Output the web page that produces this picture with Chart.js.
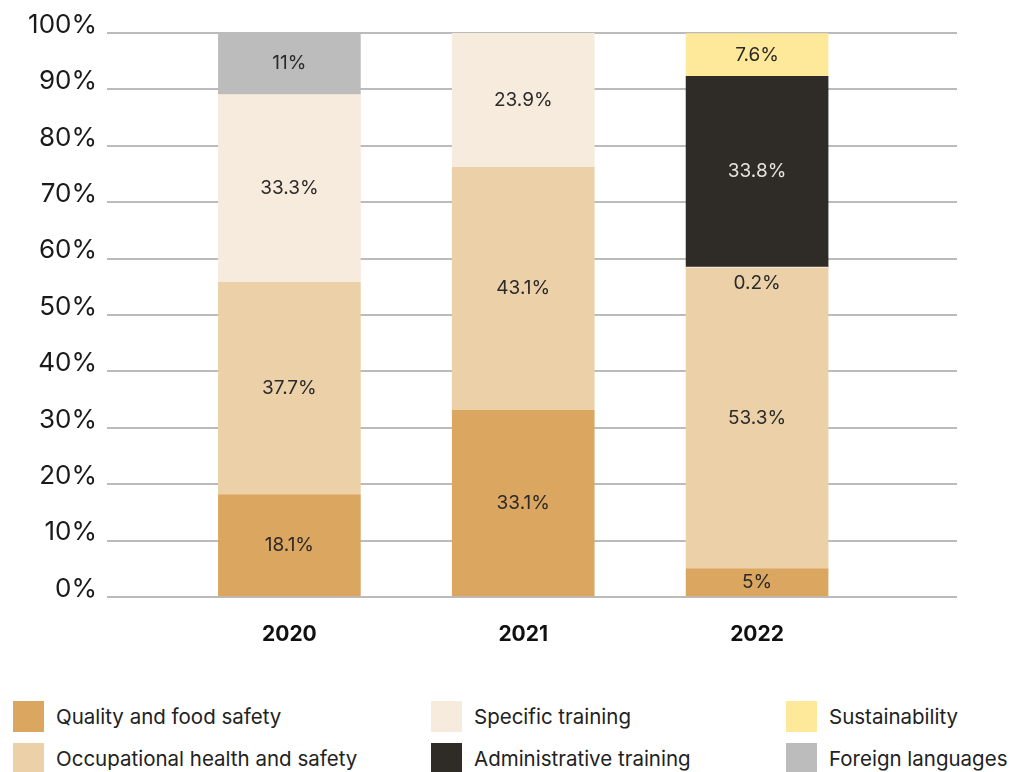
<!DOCTYPE html>
<html>
<head>
<meta charset="utf-8">
<script src="https://cdn.jsdelivr.net/npm/chart.js@4/dist/chart.umd.min.js"></script>
<style>
  body { margin: 0; background: #fff; font-family: Inter, "Noto Sans", sans-serif; }
  #wrap { position: relative; width: 1014px; height: 772px; overflow: hidden; }
  #chart-box { position: absolute; left: 0; top: 0; width: 1014px; height: 660px; }
  #legend {
    position: absolute; left: 13px; top: 701px;
    display: grid; grid-auto-flow: column;
    grid-template-columns: 418px 355px 240px;
    grid-template-rows: 42px 42px;
  }
  .item { display: flex; align-items: center; height: 31px; font-size: 20.5px; color: #222; white-space: nowrap; }
  .sw { width: 31px; height: 31px; margin-right: 12px; flex: none; }
</style>
</head>
<body>
<div id="wrap">
  <div id="chart-box"><canvas id="trainingChart"></canvas></div>
  <div id="legend"></div>
</div>
<script>
// Training hours by topic, share of total per year
const YEARS = ["2020", "2021", "2022"];
const QUALITY = [18.1, 33.1, 5];
const OCCUPATIONAL = [37.7, 43.1, 53.3];
const SPECIFIC = [33.3, 23.9, 0.2];
const ADMINISTRATIVE = [null, null, 33.8];
const SUSTAINABILITY = [null, null, 7.6];
const FOREIGN = [11, null, null];
const Y_TICKS = [0, 10, 20, 30, 40, 50, 60, 70, 80, 90, 100];

const SERIES = [
  { label: "Quality and food safety", values: QUALITY, color: "#dba65f", text: "#2a2a2a" },
  { label: "Occupational health and safety", values: OCCUPATIONAL, color: "#ebd0a8", text: "#2a2a2a" },
  { label: "Specific training", values: SPECIFIC, color: "#f6ebdc", text: "#2a2a2a" },
  { label: "Administrative training", values: ADMINISTRATIVE, color: "#2f2c27", text: "#e6e2dc" },
  { label: "Sustainability", values: SUSTAINABILITY, color: "#fee89a", text: "#2a2a2a" },
  { label: "Foreign languages", values: FOREIGN, color: "#bcbcbc", text: "#2a2a2a" },
];

// value labels written inside each segment
const segmentLabels = {
  id: "segmentLabels",
  afterDatasetsDraw(chart) {
    const ctx = chart.ctx;
    ctx.save();
    ctx.font = "19px Inter, sans-serif";
    ctx.textAlign = "center";
    ctx.textBaseline = "middle";
    chart.data.datasets.forEach((ds, di) => {
      const meta = chart.getDatasetMeta(di);
      meta.data.forEach((bar, i) => {
        const v = ds.data[i].y;
        const h = Math.abs(bar.base - bar.y);
        let y = (bar.y + bar.base) / 2;
        // too thin to hold text: put it just under the segment
        if (h < 14) y = bar.base + 15;
        ctx.fillStyle = SERIES[di].text;
        ctx.fillText(v + "%", bar.x, y);
      });
    });
    ctx.restore();
  },
};

const datasets = SERIES.map(s => ({
  label: s.label,
  data: s.values
    .map((v, i) => ({ x: i, y: v }))
    .filter(p => p.y !== null),
  backgroundColor: s.color,
  borderWidth: 0,
  barThickness: 142,
}));

new Chart(document.getElementById("trainingChart"), {
  type: "bar",
  data: { datasets },
  plugins: [segmentLabels],
  options: {
    responsive: true,
    maintainAspectRatio: false,
    animation: false,
    layout: { padding: { top: 33, right: 57, left: 0, bottom: 0 } },
    plugins: { legend: { display: false }, tooltip: { enabled: false } },
    scales: {
      x: {
        type: "linear",
        stacked: true,
        offset: false,
        min: -0.78,
        max: 2.855,
        grid: { display: false, offset: false },
        border: { display: false },
        afterBuildTicks: s => { s.ticks = YEARS.map((_, i) => ({ value: i })); },
        afterFit: s => { s.height = 63; },
        ticks: {
          autoSkip: false,
          maxRotation: 0,
          padding: 17,
          color: "#111",
          font: { family: "Inter", size: 21, weight: "bold" },
          callback: v => YEARS[v],
        },
      },
      y: {
        stacked: true,
        min: 0,
        max: 100,
        afterBuildTicks: s => { s.ticks = Y_TICKS.map(v => ({ value: v })); },
        afterFit: s => { s.width = 107; },
        grid: { color: "#bbbbbb", lineWidth: 2, drawTicks: false },
        border: { display: false },
        ticks: {
          padding: 10,
          labelOffset: -8,
          color: "#1a1a1a",
          font: { family: "Inter", size: 26 },
          callback: v => v + "%",
        },
      },
    },
  },
});

// legend laid out in three columns of two
const legend = document.getElementById("legend");
SERIES.forEach(s => {
  const item = document.createElement("div");
  item.className = "item";
  const sw = document.createElement("span");
  sw.className = "sw";
  sw.style.background = s.color;
  item.appendChild(sw);
  item.appendChild(document.createTextNode(s.label));
  legend.appendChild(item);
});
</script>
</body>
</html>
